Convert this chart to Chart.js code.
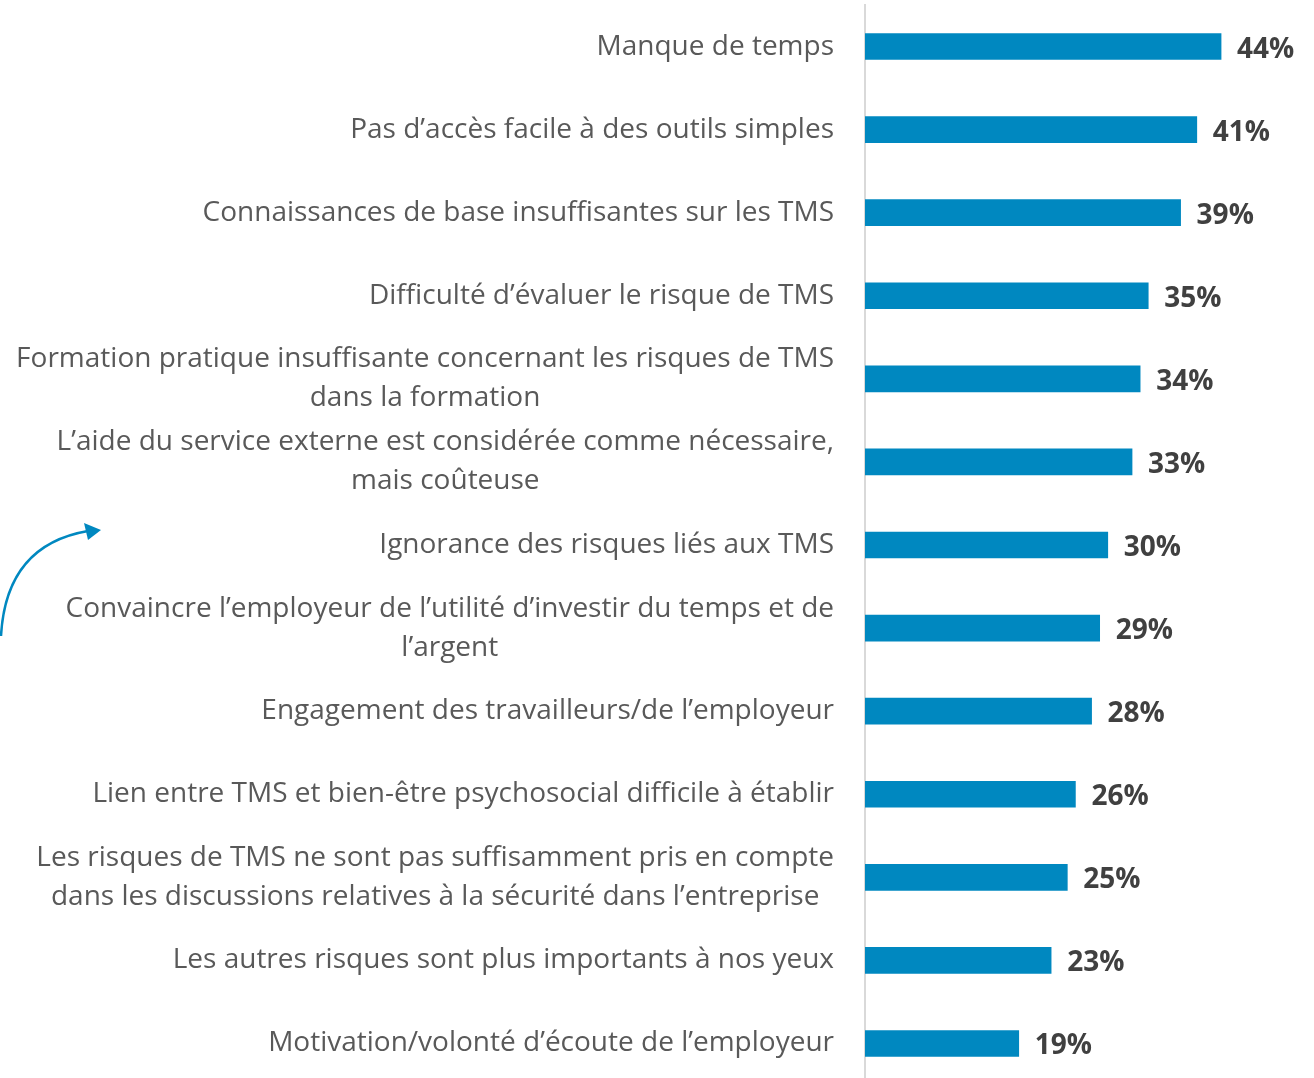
<!DOCTYPE html>
<html>
<head>
<meta charset="utf-8">
<script src="https://cdn.jsdelivr.net/npm/chart.js@4.4.0/dist/chart.umd.min.js"></script>
<style>
  html, body { margin: 0; padding: 0; background: #fff; overflow: hidden; }
  canvas { display: block; }
</style>
</head>
<body>
<canvas id="mycanvas" width="1314" height="1086"></canvas>
<script>
// categories (multi-line ones as arrays)
var categories = [
  "Manque de temps",
  "Pas d\u2019acc\u00e8s facile \u00e0 des outils simples",
  "Connaissances de base insuffisantes sur les TMS",
  "Difficult\u00e9 d\u2019\u00e9valuer le risque de TMS",
  ["Formation pratique insuffisante concernant les risques de TMS", "dans la formation"],
  ["L\u2019aide du service externe est consid\u00e9r\u00e9e comme n\u00e9cessaire,", "mais co\u00fbteuse"],
  "Ignorance des risques li\u00e9s aux TMS",
  ["Convaincre l\u2019employeur de l\u2019utilit\u00e9 d\u2019investir du temps et de", "l\u2019argent"],
  "Engagement des travailleurs/de l\u2019employeur",
  "Lien entre TMS et bien-\u00eatre psychosocial difficile \u00e0 \u00e9tablir",
  ["Les risques de TMS ne sont pas suffisamment pris en compte", "dans les discussions relatives \u00e0 la s\u00e9curit\u00e9 dans l\u2019entreprise"],
  "Les autres risques sont plus importants \u00e0 nos yeux",
  "Motivation/volont\u00e9 d\u2019\u00e9coute de l\u2019employeur"
];
var pourcentages = [44, 41, 39, 35, 34, 33, 30, 29, 28, 26, 25, 23, 19];

var labelFont = "28px 'Open Sans'";
var valueFont = "bold 28px 'Open Sans'";

var labelsPlugin = {
  id: 'labelsPlugin',
  afterDraw: function(chart) {
    var ctx = chart.ctx;
    var y = chart.scales.y;
    var meta = chart.getDatasetMeta(0);
    ctx.save();
    // category labels
    ctx.font = labelFont;
    ctx.fillStyle = "#595959";
    ctx.textAlign = "center";
    ctx.textBaseline = "middle";
    var right = y.right - 31;
    var lh = 39;
    for (var i in categories) {
      var lines = Array.isArray(categories[i]) ? categories[i] : [categories[i]];
      var maxW = 0;
      lines.forEach(function(l) { maxW = Math.max(maxW, ctx.measureText(l).width); });
      var cx = right - maxW / 2;
      var cy = y.getPixelForValue(Number(i));
      var top = cy - (lines.length - 1) * lh / 2;
      lines.forEach(function(l, k) { ctx.fillText(l, cx, top + k * lh); });
    }
    // values
    ctx.font = valueFont;
    ctx.fillStyle = "#404040";
    ctx.textAlign = "left";
    meta.data.forEach(function(bar, i) {
      ctx.fillText(pourcentages[i] + "%", bar.x + 16, bar.y + 3);
    });
    // decorative arrow
    ctx.strokeStyle = "#0088c0";
    ctx.fillStyle = "#0088c0";
    ctx.lineWidth = 2.5;
    ctx.beginPath();
    ctx.moveTo(1, 636);
    ctx.quadraticCurveTo(6, 545, 88, 531);
    ctx.stroke();
    ctx.beginPath();
    ctx.moveTo(101, 530);
    ctx.lineTo(84, 523);
    ctx.lineTo(88, 540);
    ctx.closePath();
    ctx.fill();
    ctx.restore();
  }
};

var ctx = document.getElementById("mycanvas");

var BarGraph = new Chart(ctx, {
  type: 'bar',
  data: {
    labels: categories,
    datasets: [{
      data: pourcentages,
      backgroundColor: "#0088c0",
      borderWidth: 0,
      barThickness: 26
    }]
  },
  options: {
    indexAxis: 'y',
    responsive: false,
    animation: false,
    layout: { padding: { top: 5, right: 12, bottom: 1, left: 0 } },
    plugins: {
      legend: { display: false },
      tooltip: { enabled: false }
    },
    scales: {
      x: {
        display: false,
        min: 0,
        max: 54
      },
      y: {
        display: true,
        afterFit: function(s) { s.width = 865; },
        ticks: { display: false },
        grid: { display: false, drawTicks: false },
        border: { display: true, color: "#d9d9d9", width: 2 }
      }
    }
  },
  plugins: [labelsPlugin]
});
</script>
</body>
</html>
